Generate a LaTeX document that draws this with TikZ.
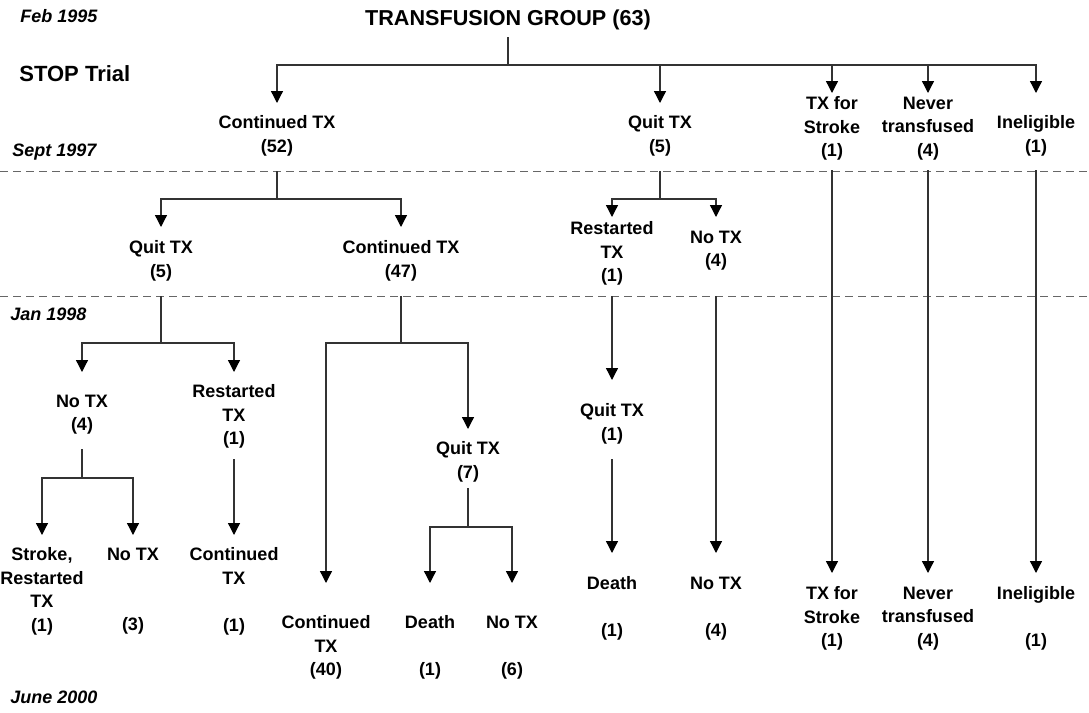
\documentclass[tikz,border=0pt]{standalone}
\usepackage{fontspec}
\setmainfont{Liberation Sans}
\usetikzlibrary{arrows.meta}

\tikzset{
  lbl/.style={anchor=north, inner sep=0pt, align=center, font=\fontsize{9}{11.75}\selectfont\bfseries},
  date/.style={anchor=west, inner sep=0pt, font=\fontsize{9}{11}\selectfont\bfseries\itshape},
  link/.style={draw=black!80, line width=0.65pt},
  arr/.style={link, -{Triangle[width=6pt,length=6pt,color=black]}},
  period/.style={draw=black!60, line width=0.5pt, dash pattern=on 4pt off 2.5pt}
}

\begin{document}
\begin{tikzpicture}[x=0.5pt, y=-0.5pt]
  \useasboundingbox (0,0) rectangle (1089,713);

  % time line
  \draw[period] (0,171) -- (1089,171);
  \draw[period] (0,296) -- (1089,296);
  \node[date] (feb)  at (20,16)  {Feb 1995};
  \node[date, font=\fontsize{11}{13}\selectfont\bfseries] (stop) at (19,74) {STOP Trial};
  \node[date] (sept) at (12,152) {Sept 1997};
  \node[date] (jan)  at (10,314) {Jan 1998};
  \node[date] (june) at (10,697) {June 2000};

  \node[anchor=south, font=\fontsize{10.8}{13}\selectfont\bfseries] (grp) at (508,37) {TRANSFUSION GROUP (63)};

  % Sept 1997
  \node[lbl] (c52)   at (277,115.5)  {Continued TX\\(52)};
  \node[lbl] (q5)    at (660,115.5)  {Quit TX\\(5)};
  \node[lbl] (txs)   at (832,96.5)   {TX for\\Stroke\\(1)};
  \node[lbl] (never) at (928,96.5)   {Never\\transfused\\(4)};
  \node[lbl] (inel)  at (1036,115.5) {Ineligible\\(1)};

  % Jan 1998
  \node[lbl] (qa)  at (161,240.5) {Quit TX\\(5)};
  \node[lbl] (c47) at (401,240.5) {Continued TX\\(47)};
  \node[lbl] (rb)  at (612,221.5) {Restarted\\TX\\(1)};
  \node[lbl] (nb)  at (716,230.5) {No TX\\(4)};

  \node[lbl] (na) at (82,394.5)  {No TX\\(4)};
  \node[lbl] (ra) at (234,384.5) {Restarted\\TX\\(1)};
  \node[lbl] (q7) at (468,441.5) {Quit TX\\(7)};
  \node[lbl] (q1) at (612,403.5) {Quit TX\\(1)};

  % June 2000
  \node[lbl] (sr)     at (42,547.5)   {Stroke,\\Restarted\\TX\\(1)};
  \node[lbl] (nd)     at (133,547.5)  {No TX\\~\\~\\(3)};
  \node[lbl] (cd)     at (234,547.5)  {Continued\\TX\\~\\(1)};
  \node[lbl] (c40)    at (326,615.5)  {Continued\\TX\\(40)};
  \node[lbl] (de)     at (430,615.5)  {Death\\~\\(1)};
  \node[lbl] (ne)     at (512,615.5)  {No TX\\~\\(6)};
  \node[lbl] (df)     at (612,576.5)  {Death\\~\\(1)};
  \node[lbl] (nc)     at (716,576.5)  {No TX\\~\\(4)};
  \node[lbl] (txsB)   at (832,586.5)  {TX for\\Stroke\\(1)};
  \node[lbl] (neverB) at (928,586.5)  {Never\\transfused\\(4)};
  \node[lbl] (inelB)  at (1036,586.5) {Ineligible\\~\\(1)};

  % connectors
  \draw[link] (grp.south) -- (508,65) coordinate (j0);
  \draw[arr] (j0) -| (c52.north |- 0,103);
  \draw[arr] (j0) -| (q5.north |- 0,103);
  \draw[arr] (j0) -| (txs.north |- 0,93);
  \draw[arr] (j0) -| (never.north |- 0,93);
  \draw[arr] (j0) -| (inel.north |- 0,93);

  \draw[link] (c52.south |- 0,171) -- (c52.south |- 0,199) coordinate (j1);
  \draw[arr] (j1) -| (qa.north |- 0,227);
  \draw[arr] (j1) -| (c47.north |- 0,227);
  \draw[link] (q5.south |- 0,171) -- (q5.south |- 0,199) coordinate (j2);
  \draw[arr] (j2) -| (rb.north |- 0,217);
  \draw[arr] (j2) -| (nb.north |- 0,217);
  \draw[arr] (txs.south |- 0,170) -- (txsB.north |- 0,573);
  \draw[arr] (never.south |- 0,170) -- (neverB.north |- 0,573);
  \draw[arr] (inel.south |- 0,170) -- (inelB.north |- 0,573);

  \draw[link] (qa.south |- 0,296) -- (qa.south |- 0,343) coordinate (j3);
  \draw[arr] (j3) -| (na.north |- 0,372);
  \draw[arr] (j3) -| (ra.north |- 0,372);
  \draw[link] (c47.south |- 0,296) -- (c47.south |- 0,343) coordinate (j4);
  \draw[arr] (j4) -| (c40.north |- 0,583);
  \draw[arr] (j4) -| (q7.north |- 0,429);
  \draw[arr] (rb.south |- 0,296) -- (q1.north |- 0,380);
  \draw[arr] (nb.south |- 0,296) -- (nc.north |- 0,553);

  \draw[link] (na.south |- 0,449) -- (na.south |- 0,478) coordinate (j5);
  \draw[arr] (j5) -| (sr.north |- 0,535);
  \draw[arr] (j5) -| (nd.north |- 0,535);
  \draw[arr] (ra.south |- 0,459) -- (cd.north |- 0,535);
  \draw[link] (q7.south |- 0,488) -- (q7.south |- 0,527) coordinate (j6);
  \draw[arr] (j6) -| (de.north |- 0,583);
  \draw[arr] (j6) -| (ne.north |- 0,583);
  \draw[arr] (q1.south |- 0,459) -- (df.north |- 0,553);
\end{tikzpicture}
\end{document}
